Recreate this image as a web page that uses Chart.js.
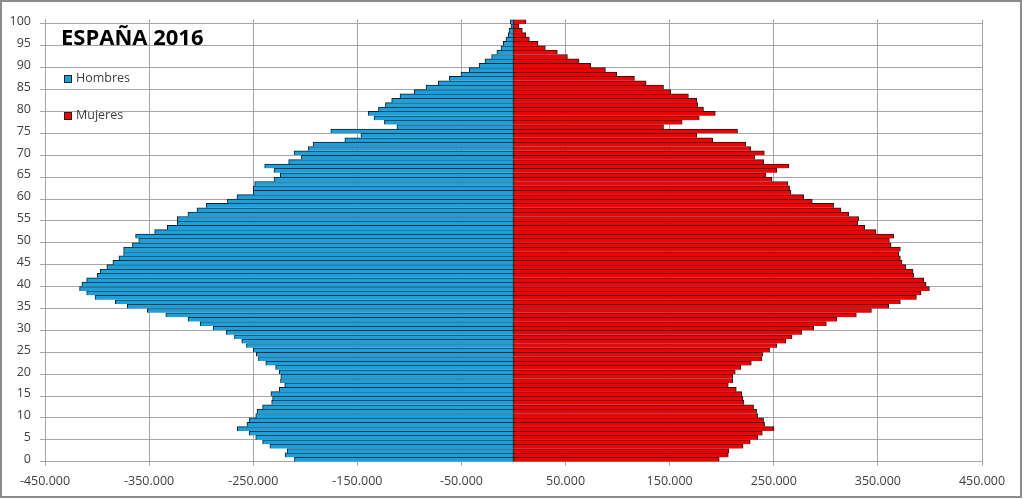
<!DOCTYPE html>
<html>
<head>
<meta charset="utf-8">
<script src="https://cdn.jsdelivr.net/npm/chart.js@4.4.1/dist/chart.umd.min.js"></script>
<style>
  html, body { margin: 0; padding: 0; background: #fff; }
  #wrap { position: relative; width: 1024px; height: 499px; overflow: hidden; }
  #pyramid { position: absolute; left: 0; top: 0; }
  .frame { position: absolute; left: 0; top: 0; width: 1018px; height: 494px; border: 2px solid #8c8c8c; pointer-events: none; }
  .title { position: absolute; left: 61px; top: 25px; font: bold 22px/22px "Open Sans", sans-serif; color: #000; white-space: nowrap; }
  .legend-item { position: absolute; left: 64px; height: 16px; font: 12.5px/16px "Open Sans", sans-serif; color: #404040; white-space: nowrap; }
  .legend-item .box { display: inline-block; width: 6px; height: 6px; border: 1px solid #222; vertical-align: -1px; margin-right: 4px; }
</style>
</head>
<body>
<div id="wrap">
  <canvas id="pyramid" width="1024" height="499"></canvas>
  <div class="frame"></div>
  <div class="title">ESPAÑA 2016</div>
  <div class="legend-item" style="top:70px"><span class="box" style="background:#1ca0dc"></span>Hombres</div>
  <div class="legend-item" style="top:107px"><span class="box" style="background:#f00000"></span>Mujeres</div>
</div>
<script>
// Edades (categorías del eje vertical)
const ages = [
  0, 1, 2, 3, 4, 5, 6, 7, 8, 9, 10, 11, 12, 13, 14, 15, 16, 17, 18, 19,
  20, 21, 22, 23, 24, 25, 26, 27, 28, 29, 30, 31, 32, 33, 34, 35, 36, 37, 38, 39,
  40, 41, 42, 43, 44, 45, 46, 47, 48, 49, 50, 51, 52, 53, 54, 55, 56, 57, 58, 59,
  60, 61, 62, 63, 64, 65, 66, 67, 68, 69, 70, 71, 72, 73, 74, 75, 76, 77, 78, 79,
  80, 81, 82, 83, 84, 85, 86, 87, 88, 89, 90, 91, 92, 93, 94, 95, 96, 97, 98, 99, 100
];

// Hombres (negativos, a la izquierda)
const hombres = [
  -210400, -219400, -217500, -234000, -241000, -247600, -254000, -265300, -256000, -254000,
  -247600, -246400, -241000, -232300, -231400, -233000, -225000, -219700, -223800, -223500,
  -225000, -228500, -238000, -245000, -247000, -250000, -256500, -261000, -268000, -276000,
  -288600, -301000, -312700, -334000, -351700, -371000, -382500, -402000, -410000, -416800,
  -414600, -410000, -400000, -397000, -390600, -384800, -379000, -374500, -374500, -366000,
  -360000, -363000, -344700, -332500, -323000, -323000, -312700, -304000, -295000, -274800,
  -265600, -250000, -250000, -248600, -230000, -224000, -230000, -239000, -216000, -203700,
  -210800, -197000, -192500, -162000, -146600, -175500, -112000, -124000, -134000, -139600,
  -129700, -123000, -117000, -109000, -95400, -84000, -72300, -61700, -50500, -42500,
  -33000, -27400, -21000, -16000, -12000, -9800, -7200, -5000, -4300, -2500, -3000
];

// Mujeres (positivos, a la derecha)
const mujeres = [
  197600, 206300, 206900, 220500, 227400, 234800, 239000, 250200, 241200, 240200,
  234500, 233500, 230600, 221300, 220400, 219400, 214000, 206300, 210700, 210700,
  213000, 218400, 228400, 238600, 239600, 246000, 253000, 261700, 267500, 277000,
  288300, 300500, 310700, 329300, 343800, 360400, 371600, 387000, 391500, 399500,
  396300, 394000, 384500, 383800, 377000, 373200, 371600, 370000, 371600, 362700,
  361000, 365200, 348200, 337300, 330600, 331600, 322000, 314600, 307500, 287000,
  278700, 266500, 265200, 263600, 248200, 242500, 253000, 264600, 240500, 231600,
  240900, 228000, 223200, 191500, 176100, 215200, 144100, 162000, 178400, 193800,
  182500, 177000, 176100, 168000, 151100, 144100, 127400, 116200, 99200, 88300,
  74200, 63000, 51800, 42100, 30600, 23600, 15200, 12000, 8500, 5300, 12000
];

// Marcas del eje horizontal
const xTicks = [-450000, -350000, -250000, -150000, -50000, 50000, 150000, 250000, 350000, 450000];

const gridColor = '#a6a6a6';
const labelFont = { family: '"Open Sans", sans-serif', size: 12.5 };

// 450000 -> "450.000"
function formatMiles(v) {
  return String(v).replace(/\B(?=(\d{3})+(?!\d))/g, '.');
}

new Chart(document.getElementById('pyramid'), {
  type: 'bar',
  data: {
    labels: ages,
    datasets: [
      {
        label: 'Hombres',
        data: hombres,
        backgroundColor: '#1ca0dc',
        borderColor: '#1a1a1a',
        borderWidth: { top: 1, right: 1, bottom: 0, left: 1 },
        borderSkipped: false,
        barPercentage: 1,
        categoryPercentage: 1,
      },
      {
        label: 'Mujeres',
        data: mujeres,
        backgroundColor: '#f00000',
        borderColor: '#1a1a1a',
        borderWidth: { top: 1, right: 1, bottom: 0, left: 1 },
        borderSkipped: false,
        barPercentage: 1,
        categoryPercentage: 1,
      },
    ],
  },
  options: {
    indexAxis: 'y',
    responsive: false,
    animation: false,
    layout: { padding: { top: 19.5, right: 42, bottom: 0, left: 0 } },
    plugins: {
      legend: { display: false },
      tooltip: { enabled: false },
    },
    scales: {
      x: {
        type: 'linear',
        min: -450000,
        max: 450000,
        stacked: true,
        afterBuildTicks: (scale) => {
          scale.ticks = xTicks.map(v => ({ value: v }));
        },
        afterFit: (scale) => { scale.height = 37.3; },
        grid: { color: gridColor, tickLength: 4 },
        border: { color: gridColor },
        ticks: {
          autoSkip: false,
          maxRotation: 0,
          padding: 8,
          color: '#404040',
          font: labelFont,
          callback: (v) => formatMiles(v),
        },
      },
      y: {
        type: 'category',
        reverse: true,
        stacked: true,
        offset: true,
        afterFit: (scale) => { scale.width = 45; },
        grid: {
          offset: true,
          tickLength: 5,
          // solo una línea cada 5 años
          color: (ctx) => (ages[ctx.index] % 5 === 0 ? gridColor : 'rgba(0,0,0,0)'),
        },
        border: { color: gridColor },
        ticks: {
          autoSkip: false,
          padding: 9,
          color: '#404040',
          font: labelFont,
          callback: (v, i) => (ages[i] % 5 === 0 ? String(ages[i]) : ''),
        },
      },
    },
  },
});
</script>
</body>
</html>
